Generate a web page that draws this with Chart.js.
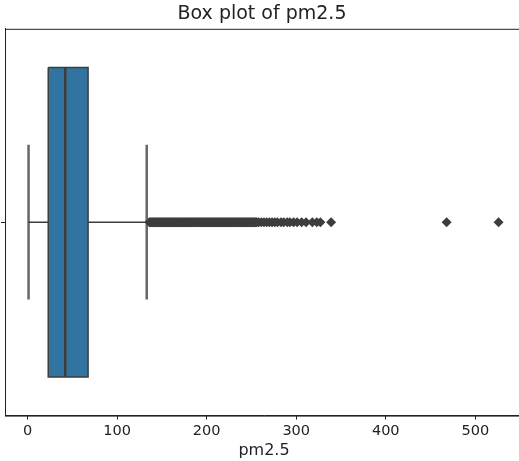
<!DOCTYPE html>
<html>
<head>
<meta charset="utf-8">
<script src="https://cdn.jsdelivr.net/npm/chart.js@4.4.1/dist/chart.umd.min.js"></script>
<style>
  html, body { margin: 0; padding: 0; background: #fff; overflow: hidden; }
  #wrap { width: 519px; height: 461px; overflow: hidden; }
</style>
</head>
<body>
<div id="wrap"><canvas id="chart" width="528" height="461"></canvas></div>
<script>
const TITLE = "Box plot of pm2.5";
const X_LABEL = "pm2.5";
const X_TICKS = [0, 100, 200, 300, 400, 500];
const X_RANGE = [-25.3, 553.3];

// lower whisker, q1, median, q3, upper whisker
const BOX_STATS = [1, 23, 42, 67.5, 133];

const OUTLIERS = [
  136, 137, 138, 139, 140, 141, 142, 143, 144, 145, 146, 147, 148, 149, 150,
  151, 152, 153, 154, 155, 156, 157, 158, 159, 160, 161, 162, 163, 164, 165,
  166, 167, 168, 169, 170, 171, 172, 173, 174, 175, 176, 177, 178, 179, 180,
  181, 182, 183, 184, 185, 186, 187, 188, 189, 190, 191, 192, 193, 194, 195,
  196, 197, 198, 199, 200, 201, 202, 203, 204, 205, 206, 207, 208, 209, 210,
  211, 212, 213, 214, 215, 216, 217, 218, 219, 220, 221, 222, 223, 224, 225,
  226, 227, 228, 229, 230, 231, 232, 233, 234, 235, 236, 237, 238, 239, 240,
  241, 242, 243, 244, 245, 246, 247, 248, 249, 250, 251, 252, 253, 254, 255,
  256, 258, 261, 264, 267, 270, 273, 276, 279, 283, 286, 290, 293, 297, 301,
  306, 311, 318, 323, 327, 339, 468, 526
];

const BOX_HALF = 0.4;
const CAP_HALF = 0.2;
const DARK = "#3d3d3d";
const BLUE = "#3274a1";

const [lo, q1, med, q3, hi] = BOX_STATS;

function seg(x1, y1, x2, y2) {
  return [{ x: x1, y: y1 }, { x: x2, y: y2 }];
}

// draw the top / right spines like matplotlib
const frame = {
  id: "frame",
  afterDraw(chart) {
    const { ctx, chartArea: a } = chart;
    ctx.save();
    ctx.strokeStyle = "#222";
    ctx.lineWidth = 1;
    ctx.strokeRect(a.left + 0.5, a.top + 0.5, a.right - a.left, a.bottom - a.top);
    ctx.restore();
  }
};

const lineDs = (data, color, width, order) => ({
  type: "line",
  data: data,
  borderColor: color,
  borderWidth: width,
  pointRadius: 0,
  fill: false,
  order: order
});

const datasets = [
  {
    type: "line",
    data: [
      { x: q1, y: -BOX_HALF }, { x: q3, y: -BOX_HALF },
      { x: q3, y: BOX_HALF }, { x: q1, y: BOX_HALF }, { x: q1, y: -BOX_HALF }
    ],
    borderColor: DARK,
    borderWidth: 1.5,
    backgroundColor: BLUE,
    fill: "shape",
    pointRadius: 0,
    order: 3
  },
  lineDs(seg(med, -BOX_HALF, med, BOX_HALF), DARK, 2.5, 1),
  lineDs(seg(lo, 0, q1, 0), DARK, 1.5, 4),
  lineDs(seg(q3, 0, hi, 0), DARK, 1.5, 4),
  lineDs(seg(lo, -CAP_HALF, lo, CAP_HALF), "#666", 2.5, 4),
  lineDs(seg(hi, -CAP_HALF, hi, CAP_HALF), "#666", 2.5, 4),
  {
    type: "scatter",
    data: OUTLIERS.map(v => ({ x: v, y: 0 })),
    pointStyle: "rectRot",
    pointRadius: 5,
    backgroundColor: DARK,
    borderColor: DARK,
    borderWidth: 0,
    order: 2
  }
];

Chart.defaults.font.family = "'DejaVu Sans', sans-serif";
Chart.defaults.color = "#222";

new Chart(document.getElementById("chart"), {
  type: "scatter",
  data: { datasets: datasets },
  options: {
    responsive: false,
    animation: false,
    devicePixelRatio: 1,
    layout: { padding: { left: 0, right: 4, top: 0, bottom: 2 } },
    plugins: {
      legend: { display: false },
      tooltip: { enabled: false },
      title: {
        display: true,
        text: TITLE,
        color: "#222",
        font: { size: 19, weight: "normal" },
        padding: { top: 3, bottom: 3 }
      }
    },
    scales: {
      x: {
        type: "linear",
        min: X_RANGE[0],
        max: X_RANGE[1],
        afterBuildTicks: s => { s.ticks = X_TICKS.map(v => ({ value: v })); },
        grid: { drawOnChartArea: false, tickLength: 4, color: "#222" },
        border: { color: "#222", width: 1 },
        ticks: { font: { size: 14.5 }, padding: 3, maxRotation: 0, color: "#222" },
        title: {
          display: true,
          text: X_LABEL,
          font: { size: 16, lineHeight: 1.0 },
          padding: { top: 0, bottom: 0 },
          color: "#222"
        }
      },
      y: {
        type: "linear",
        min: -0.5,
        max: 0.5,
        reverse: true,
        afterBuildTicks: s => { s.ticks = [{ value: 0 }]; },
        grid: { drawOnChartArea: false, tickLength: 4, color: "#222" },
        border: { color: "#222", width: 1 },
        ticks: { display: false }
      }
    }
  },
  plugins: [frame]
});
</script>
</body>
</html>
